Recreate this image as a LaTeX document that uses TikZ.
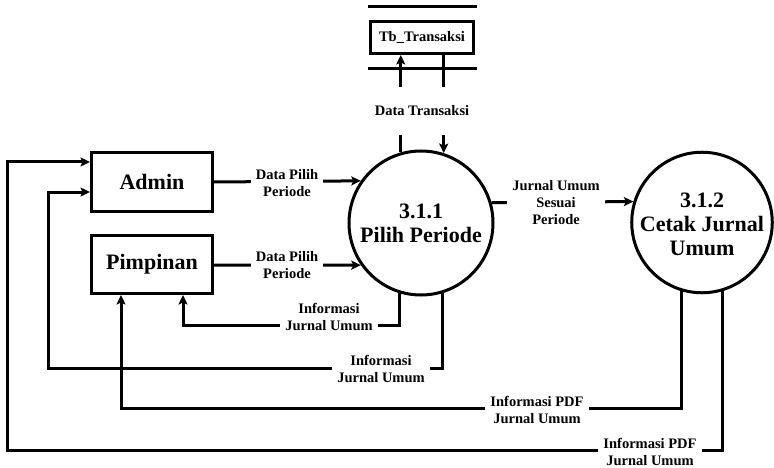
\documentclass[tikz,border=0pt]{standalone}
\usepackage{fontspec}
\setmainfont{Liberation Serif}
\usetikzlibrary{arrows.meta}
\begin{document}
\begin{tikzpicture}[x=1pt,y=-1pt,
  plain/.style={line width=3pt},
  flow/.style={plain, -{Stealth[length=9.5pt,width=9pt,inset=2pt]}},
  entity/.style={draw, line width=3pt, minimum width=121pt, minimum height=58pt,
    inner sep=0pt, font=\fontsize{22}{24}\selectfont\bfseries},
  proc/.style={draw, circle, line width=3pt, inner sep=0pt, align=center,
    font=\fontsize{22}{24}\selectfont\bfseries},
  store/.style={draw, line width=3pt, minimum width=103pt, minimum height=32pt,
    inner sep=0pt, font=\fontsize{14.5}{17}\selectfont\bfseries},
  lbl/.style={fill=white, align=center, inner xsep=5pt, inner ysep=1pt,
    font=\fontsize{14.5}{17}\selectfont\bfseries}]
\useasboundingbox (0,0) rectangle (774,468);

% external entities
\node[entity] (admin) at (152,182) {Admin};
\node[entity] (pimp) at (152,264.5) {Pimpinan};

% processes
\node[proc, minimum size=144pt] (p1) at (421,223) {3.1.1\\Pilih Periode};
\node[proc, minimum size=140pt] (p2) at (702,222.5) {\\[-6pt]3.1.2\\Cetak Jurnal\\Umum};

% data store
\node[store] (tb) at (422,37.5) {Tb\_Transaksi};
\draw[plain] ([xshift=-1.5pt]tb.west |- 0,7) -- ([xshift=1.5pt]tb.east |- 0,7);
\draw[plain] ([xshift=-1.5pt]tb.west |- 0,69) -- ([xshift=1.5pt]tb.east |- 0,69);

% corner points of the return flows
\coordinate (fb1) at (183,325);
\coordinate (fb2) at (48,368);
\coordinate (in2) at (48,192);
\coordinate (fb3) at (121,408);
\coordinate (fb4) at (7,450);
\coordinate (in4) at (7,162);

% flows
\draw[flow] (admin.east) -- (p1.145.3);
\draw[flow] (pimp.east |- 0,265) -- (p1.215.7);
\draw[flow] (p1.16.1) -- (p2.163.4);
\draw[flow] (p1.106.1) -- (p1.106.1 |- tb.south);
\draw[flow] (p1.72.2 |- tb.south) -- (p1.72.2);
\draw[flow] (p1.253.9) |- (fb1) -- (fb1 |- pimp.south);
\draw[flow] (p1.287.8) |- (fb2) -- (in2) -- (in2 -| admin.west);
\draw[flow] (p2.253.4) |- (fb3) -- (fb3 |- pimp.south);
\draw[flow] (p2.287.5) |- (fb4) -- (in4) -- (in4 -| admin.west);

% flow labels
\node[lbl] (ldp1) at (287,183) {Data Pilih\\Periode};
\node[lbl] (ldp2) at (287,265) {Data Pilih\\Periode};
\node[lbl, minimum height=48pt] (ldt) at (422,111) {Data Transaksi};
\node[lbl] (lju) at (556,203) {Jurnal Umum\\Sesuai\\Periode};
\node[lbl] (lij1) at (329,316.5) {Informasi\\Jurnal Umum};
\node[lbl] (lij2) at (381,368.5) {Informasi\\Jurnal Umum};
\node[lbl] (lpdf1) at (537,410) {Informasi PDF\\Jurnal Umum};
\node[lbl] (lpdf2) at (650,451.5) {Informasi PDF\\Jurnal Umum};
\end{tikzpicture}
\end{document}
